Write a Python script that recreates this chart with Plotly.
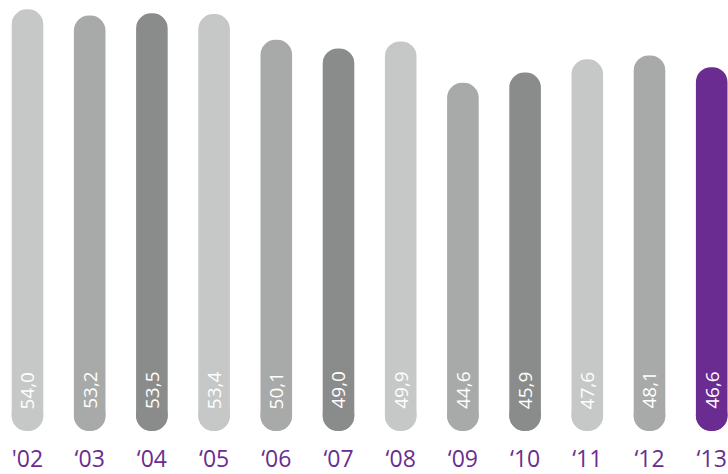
import plotly.graph_objects as go

years = ["'02", "‘03", "‘04", "‘05", "‘06", "‘07", "‘08", "‘09", "‘10", "‘11", "‘12", "‘13"]
values = [54.0, 53.2, 53.5, 53.4, 50.1, 49.0, 49.9, 44.6, 45.9, 47.6, 48.1, 46.6]
colors = ["#c6c8c7", "#a8aaa9", "#8a8c8b", "#c6c8c7", "#a8aaa9", "#8a8c8b",
          "#c6c8c7", "#a8aaa9", "#8a8c8b", "#c6c8c7", "#a8aaa9", "#6b2c91"]

x = list(range(len(values)))
labels = [f"{v:.1f}".replace(".", ",") for v in values]

PLOT_H = 433
Y_MAX = 55.2
BAR_PX = 31.6
X_RANGE = [-0.442, 11.262]
W = BAR_PX / (728 / (X_RANGE[1] - X_RANGE[0]))
PX_PER_UNIT = PLOT_H / Y_MAX
R = (BAR_PX / 2) / PX_PER_UNIT   # cap radius in data units
TEXT_BASE = 21 / PX_PER_UNIT     # where the value labels start

fig = go.Figure()
# rounded bottom caps
fig.add_trace(go.Scatter(
    x=x, y=[R] * len(values), mode="markers",
    marker=dict(color=colors, size=BAR_PX, symbol="circle", line=dict(width=0)),
    hoverinfo="skip", showlegend=False, cliponaxis=False,
))
# pill-shaped bars
fig.add_trace(go.Bar(
    x=x, y=values, base=[0] * len(values),
    width=W, marker=dict(color=colors, cornerradius="50%", line=dict(width=0)),
    hoverinfo="skip", showlegend=False,
))

for xi, lab in zip(x, labels):
    fig.add_annotation(
        x=xi, y=TEXT_BASE, xref="x", yref="y", text=lab, showarrow=False,
        textangle=-90, xanchor="center", yanchor="bottom",
        font=dict(family="Open Sans", size=19, color="white"),
        borderpad=0,
    )

fig.update_layout(
    width=728, height=474,
    margin=dict(l=0, r=0, t=0, b=474 - PLOT_H),
    barmode="overlay",
    plot_bgcolor="white", paper_bgcolor="white",
    xaxis=dict(range=X_RANGE, tickvals=x, ticktext=years,
               showgrid=False, zeroline=False, showline=False, ticks="",
               tickfont=dict(family="Open Sans", size=23, color="#6b2c91"),
               ticklabelstandoff=12),
    yaxis=dict(range=[0, Y_MAX], visible=False, showgrid=False, zeroline=False),
)

fig.write_html("out.html", config={"displayModeBar": False},
               post_script="document.body.style.margin='0';document.body.style.padding='0';")
